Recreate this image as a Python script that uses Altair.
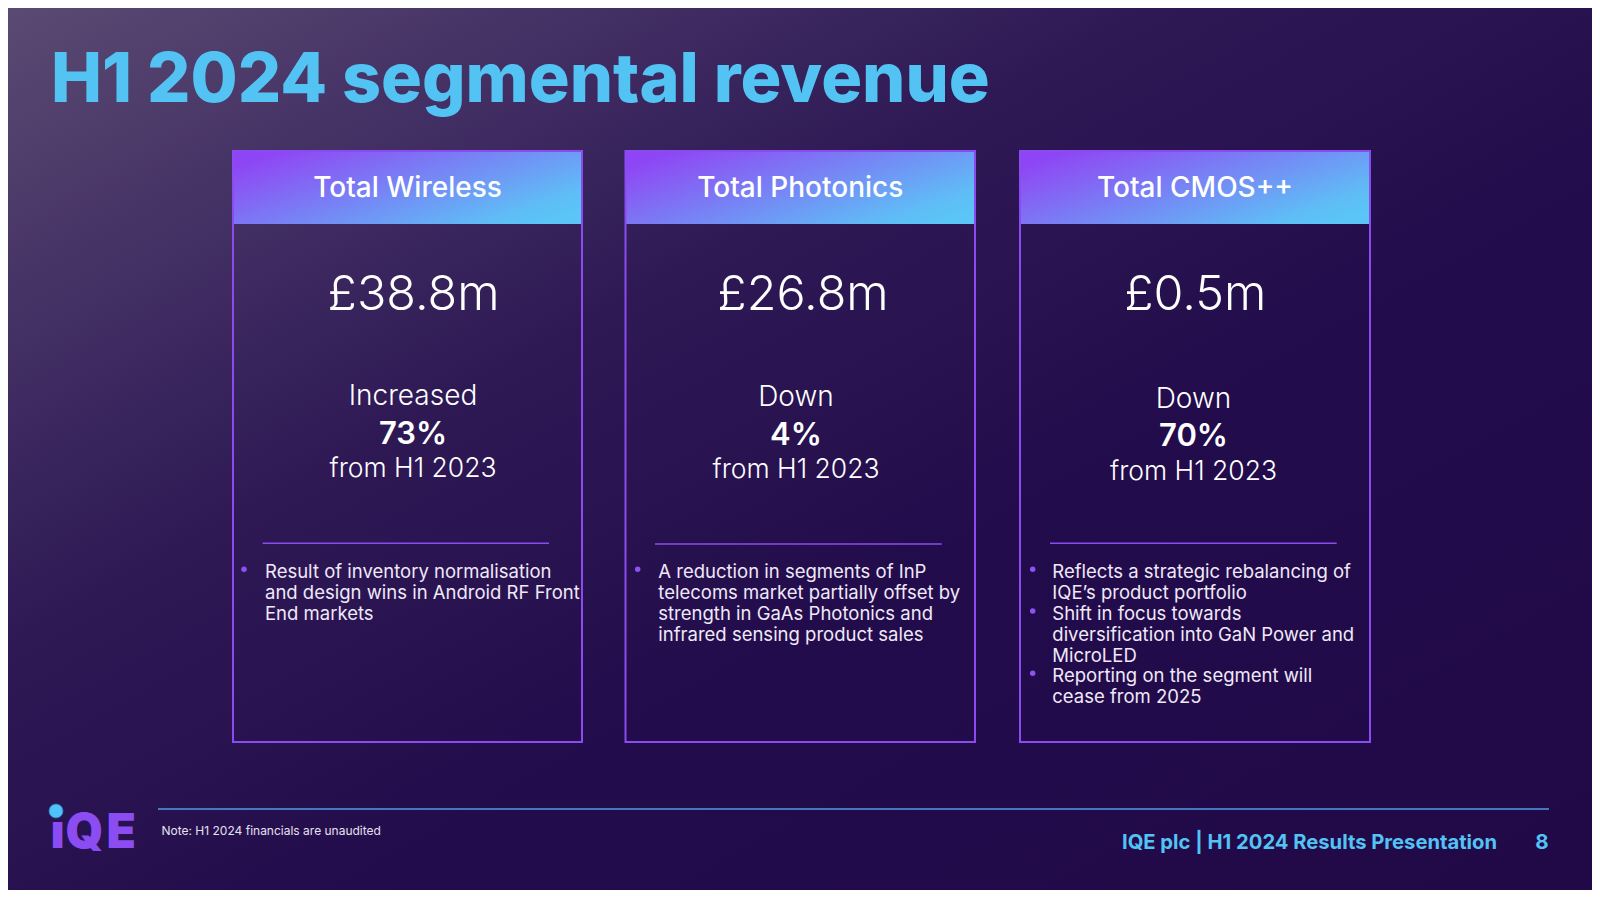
import altair as alt
import pandas as pd

# ---------------- content ----------------
title_text = "H1 2024 segmental revenue"
segments = ["Total Wireless", "Total Photonics", "Total CMOS++"]
revenue = ["£38.8m", "£26.8m", "£0.5m"]
direction = ["Increased", "Down", "Down"]
change = ["73%", "4%", "70%"]
comparison = ["from H1 2023", "from H1 2023", "from H1 2023"]
bullets = [
    [["Result of inventory normalisation", "and design wins in Android RF Front", "End markets"]],
    [["A reduction in segments of InP", "telecoms market partially offset by",
      "strength in GaAs Photonics and", "infrared sensing product sales"]],
    [["Reflects a strategic rebalancing of", "IQE\u2019s product portfolio"],
     ["Shift in focus towards", "diversification into GaN Power and", "MicroLED"],
     ["Reporting on the segment will", "cease from 2025"]],
]
note_text = "Note: H1 2024 financials are unaudited"
footer_text = "IQE plc | H1 2024 Results Presentation"
page_number = "8"
logo_letters = ["\u0131", "Q", "E"]

# ---------------- layout (slide pixel coordinates) ----------------
W, H = 1584, 882
OFF = 8
box_left = [233, 625.5, 1020]
box_right = [582, 975, 1370]
box_top, header_bottom, box_bottom = 151, 224, 742
header_baseline = 197
value_cx = [413.5, 803, 1195.3]
value_baseline = 310
change_cx = [413, 796, 1193.5]
dir_baseline = [405, 406, 408.3]
chg_baseline = [444, 445, 446]
cmp_baseline = [477.3, 477.7, 480]
div_x1 = [262.7, 655, 1050]
div_x2 = [549, 941.7, 1336.7]
div_y = [543.3, 544, 543.3]
text_x = [265, 658.3, 1052.3]
dot_x = [244, 637.7, 1032.7]
first_baseline = 578.3
line_h = 20.8
logo_x = [50.5, 65.5, 106.5]
logo_baseline = 847.5

FONT = "Inter"
PURPLE = "#8a4cf0"
BLUE = "#52c3f3"
WHITE = "#ffffff"
SOFT = "#efe9f8"

XS = alt.Scale(domain=[OFF, OFF + W], range=[0, W], nice=False, zero=False)
YS = alt.Scale(domain=[OFF, OFF + H], range=[0, H], nice=False, zero=False)


def text_layer(df, size, weight, color, align="center"):
    return alt.Chart(df).mark_text(
        align=align, baseline="alphabetic", font=FONT, fontSize=size,
        fontWeight=weight, color=color,
    ).encode(
        x=alt.X("x:Q", scale=XS, axis=None),
        y=alt.Y("y:Q", scale=YS, axis=None),
        text="t:N",
    )


# ---------------- background ----------------
bg = alt.Chart(pd.DataFrame({"a": [0]})).mark_rect(
    fill=alt.LinearGradient(
        gradient="linear",
        stops=[
            alt.GradientStop(color="#5a4a72", offset=0),
            alt.GradientStop(color="#483567", offset=0.15),
            alt.GradientStop(color="#2e1955", offset=0.36),
            alt.GradientStop(color="#230c4b", offset=0.6),
            alt.GradientStop(color="#210948", offset=1),
        ],
        x1=0, y1=0, x2=1, y2=1,
    ),
    strokeWidth=0,
).encode(x=alt.value(0), x2=alt.value(W), y=alt.value(0), y2=alt.value(H))

# ---------------- cards ----------------
cards = pd.DataFrame({
    "x": box_left, "x2": box_right,
    "y": [box_top] * 3, "y2": [box_bottom] * 3,
    "hy2": [header_bottom] * 3,
})

header_rect = alt.Chart(cards).mark_rect(
    fill=alt.LinearGradient(
        gradient="linear",
        stops=[
            alt.GradientStop(color="#8d45f5", offset=0),
            alt.GradientStop(color="#8a55f4", offset=0.12),
            alt.GradientStop(color="#5fbdf6", offset=0.88),
            alt.GradientStop(color="#5ac5f6", offset=1),
        ],
        x1=0, y1=0.2, x2=1, y2=0.8,
    ),
    strokeWidth=0,
).encode(
    x=alt.X("x:Q", scale=XS, axis=None), x2="x2:Q",
    y=alt.Y("y:Q", scale=YS, axis=None), y2="hy2:Q",
)

box_outline = alt.Chart(cards).mark_rect(
    fillOpacity=0, stroke=PURPLE, strokeWidth=2,
).encode(
    x=alt.X("x:Q", scale=XS, axis=None), x2="x2:Q",
    y=alt.Y("y:Q", scale=YS, axis=None), y2="y2:Q",
)

centers = [(a + b) / 2 for a, b in zip(box_left, box_right)]
headers = text_layer(pd.DataFrame({"x": centers, "y": [header_baseline] * 3, "t": segments}),
                     28, 500, WHITE)
values = text_layer(pd.DataFrame({"x": value_cx, "y": [value_baseline] * 3, "t": revenue}),
                    48.5, 300, WHITE)
dirs = text_layer(pd.DataFrame({"x": change_cx, "y": dir_baseline, "t": direction}),
                  28, 300, WHITE)
chgs = text_layer(pd.DataFrame({"x": change_cx, "y": chg_baseline, "t": change}),
                  31, 600, WHITE)
cmps = text_layer(pd.DataFrame({"x": change_cx, "y": cmp_baseline, "t": comparison}),
                  26.5, 300, WHITE)

dividers = alt.Chart(pd.DataFrame({"x": div_x1, "x2": div_x2, "y": div_y})).mark_rule(
    color=PURPLE, strokeWidth=1.5,
).encode(
    x=alt.X("x:Q", scale=XS, axis=None), x2="x2:Q",
    y=alt.Y("y:Q", scale=YS, axis=None),
)

# bullet lines
line_rows, dot_rows = [], []
for ci, card in enumerate(bullets):
    k = 0
    for item in card:
        dot_rows.append({"x": dot_x[ci], "y": first_baseline + k * line_h - 9})
        for line in item:
            line_rows.append({"x": text_x[ci], "y": first_baseline + k * line_h, "t": line})
            k += 1

bullet_text = text_layer(pd.DataFrame(line_rows), 18.5, 400, SOFT, align="left")
bullet_dots = alt.Chart(pd.DataFrame(dot_rows)).mark_circle(
    size=30, color="#9050f2", opacity=1,
).encode(
    x=alt.X("x:Q", scale=XS, axis=None),
    y=alt.Y("y:Q", scale=YS, axis=None),
)

# ---------------- title & footer ----------------
title = text_layer(pd.DataFrame({"x": [51], "y": [102], "t": [title_text]}),
                   68.2, 800, BLUE, align="left")

footer_line = alt.Chart(pd.DataFrame({"x": [158], "x2": [1549], "y": [809]})).mark_rule(
    color="#4f9de6", strokeWidth=1.5,
).encode(
    x=alt.X("x:Q", scale=XS, axis=None), x2="x2:Q",
    y=alt.Y("y:Q", scale=YS, axis=None),
)
note = text_layer(pd.DataFrame({"x": [161.5], "y": [835], "t": [note_text]}),
                  12, 400, "#e6e0f0", align="left")
footer = text_layer(pd.DataFrame({"x": [1497], "y": [848.5], "t": [footer_text]}),
                    20.2, 700, BLUE, align="right")
pnum = text_layer(pd.DataFrame({"x": [1548.5], "y": [848.5], "t": [page_number]}),
                  20.5, 700, BLUE, align="right")

logo = text_layer(pd.DataFrame({"x": logo_x, "y": [logo_baseline] * 3, "t": logo_letters}),
                  48, 900, "#8b4cf2", align="left")
globe = alt.Chart(pd.DataFrame({"x": [56], "y": [811]})).mark_circle(
    size=200, color="#4fc3f7", opacity=1, stroke="#2a6fb0", strokeWidth=0.8,
).encode(
    x=alt.X("x:Q", scale=XS, axis=None),
    y=alt.Y("y:Q", scale=YS, axis=None),
)

chart = alt.layer(
    bg, header_rect, box_outline, headers, values, dirs, chgs, cmps,
    dividers, bullet_dots, bullet_text, title, footer_line, note, footer, pnum,
    logo, globe,
).properties(
    width=W, height=H, padding=0,
    autosize=alt.AutoSizeParams(type="none"),
).configure_view(stroke=None).configure(background="#220b4a")

chart.save("out.html", embed_options={"renderer": "svg", "actions": False})
